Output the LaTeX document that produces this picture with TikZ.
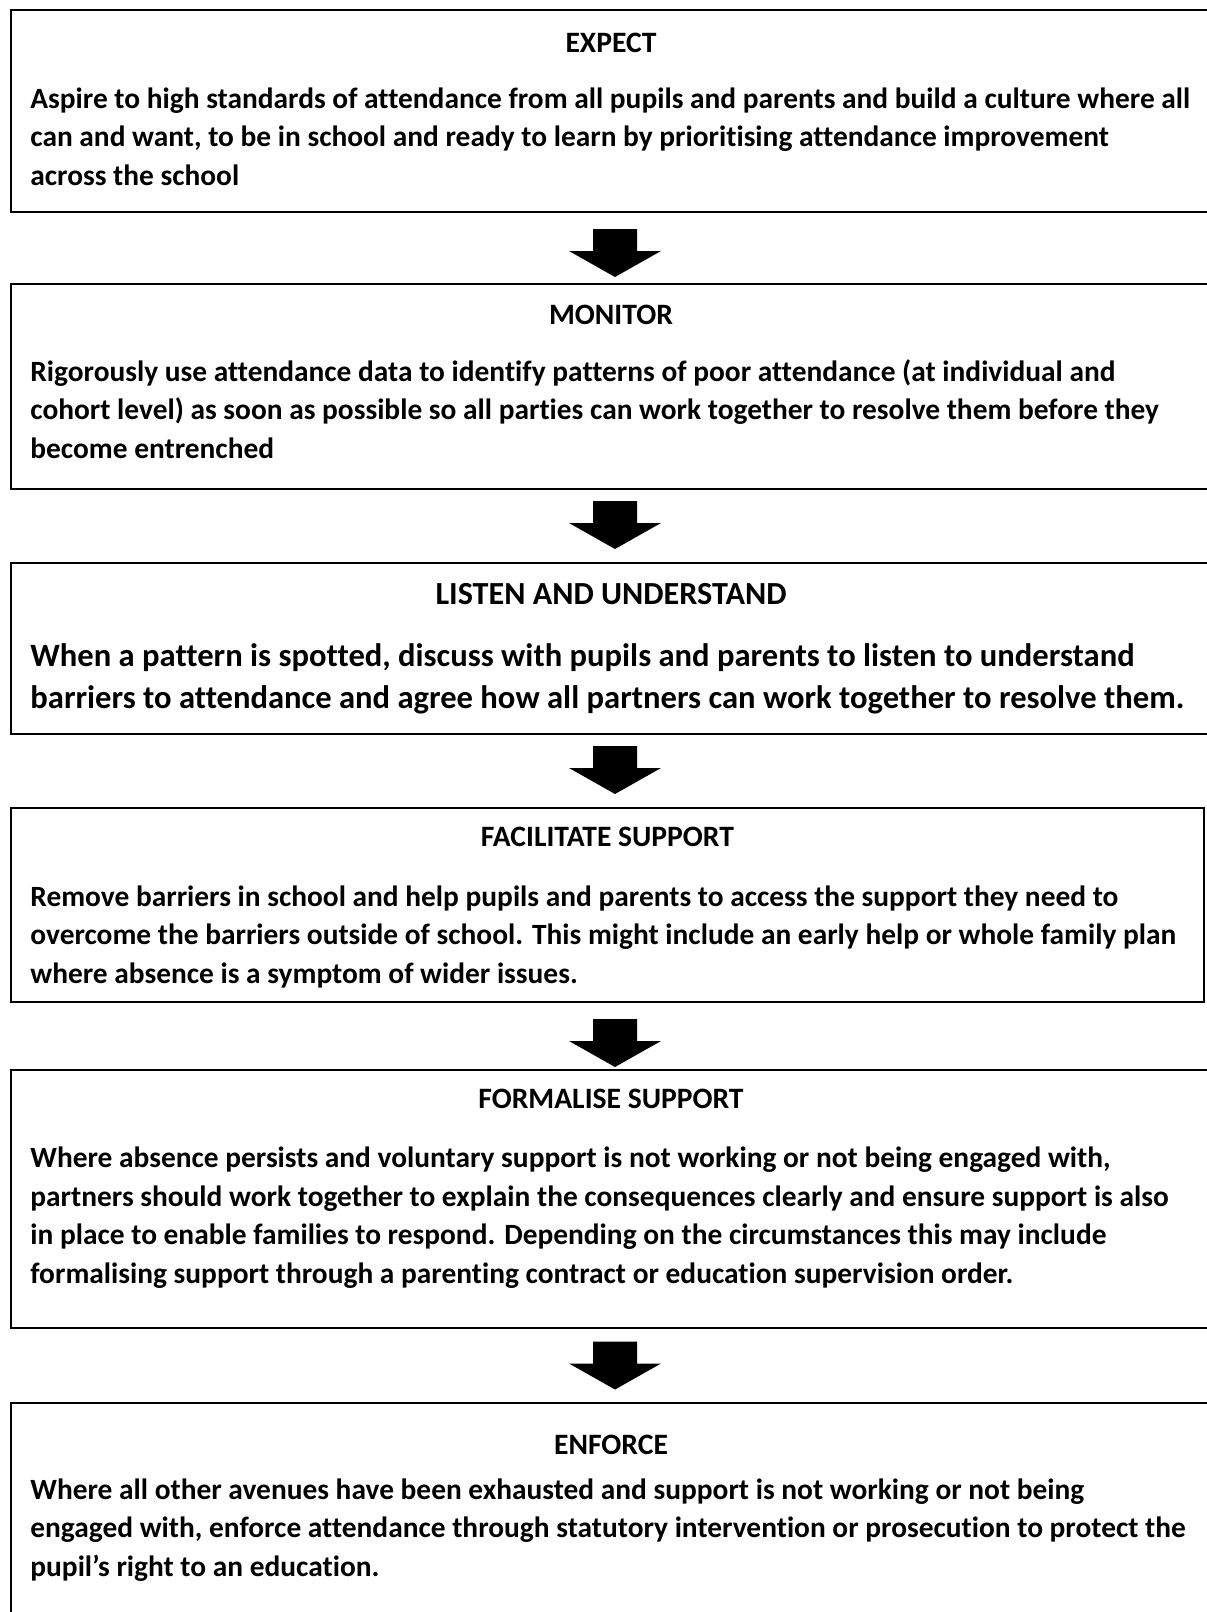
\documentclass[tikz,border=0pt]{standalone}
\usepackage{fontspec}
\setmainfont{Carlito}[RawFeature={-liga;-clig;-dlig;-calt}]
\usetikzlibrary{positioning,calc}

\tikzset{
  stage/.style={draw, line width=1pt, anchor=north west, inner sep=0pt, minimum width=600pt},
  heading/.style={font=\bfseries\fontsize{14.8}{17}\selectfont, anchor=base, inner sep=0pt},
  body/.style={font=\bfseries\fontsize{14.7}{19.25}\selectfont, align=left, anchor=base west, inner sep=0pt},
  bigheading/.style={heading, font=\bfseries\fontsize{16.1}{19}\selectfont},
  bigbody/.style={body, font=\bfseries\fontsize{16.3}{21}\selectfont},
}

\begin{document}
\begin{tikzpicture}[x=0.5pt,y=-0.5pt]
\useasboundingbox (0,0) rectangle (1206,1612);
\coordinate (axis) at (615,0);

% the six stages
\node[stage, minimum height=101pt] (expect) at (10,9) {};
\node[stage, minimum height=102.5pt] (monitor) at (10,283) {};
\node[stage, minimum height=85.5pt] (listen) at (10,562) {};
\node[stage, minimum height=97pt, minimum width=596.5pt] (facilitate) at (10,807) {};
\node[stage, minimum height=129pt] (formalise) at (10,1069) {};
\node[stage, minimum height=114pt] (enforce) at (10,1402) {};

% texts (body nodes sit on the baseline of their last line)
\node[heading] (expect-h) at ($(expect.north)+(0,43)$) {EXPECT};
\node[body] (expect-b) at ($(expect.north west)+(20,176)$) {Aspire to high standards of attendance from all pupils and parents and build a culture where all\\
can and want, to be in school and ready to learn by prioritising attendance improvement\\
across the school};

\node[heading] (monitor-h) at ($(monitor.north)+(0,41)$) {MONITOR};
\node[body] (monitor-b) at ($(monitor.north west)+(20,175)$) {Rigorously use attendance data to identify patterns of poor attendance (at individual and\\
cohort level) as soon as possible so all parties can work together to resolve them before they\\
become entrenched};

\node[bigheading] (listen-h) at ($(listen.north)+(0,42)$) {LISTEN AND UNDERSTAND};
\node[bigbody] (listen-b) at ($(listen.north west)+(20,146)$) {When a pattern is spotted, discuss with pupils and parents to listen to understand\\
barriers to attendance and agree how all partners can work together to resolve them.};

\node[heading] (facilitate-h) at ($(facilitate.north)+(0,39)$) {FACILITATE SUPPORT};
\node[body] (facilitate-b) at ($(facilitate.north west)+(20,176)$) {Remove barriers in school and help pupils and parents to access the support they need to\\
overcome the barriers outside of school. This might include an early help or whole family plan\\
where absence is a symptom of wider issues.};

\node[heading] (formalise-h) at ($(formalise.north)+(0,39)$) {FORMALISE SUPPORT};
\node[body] (formalise-b) at ($(formalise.north west)+(20,214)$) {Where absence persists and voluntary support is not working or not being engaged with,\\
partners should work together to explain the consequences clearly and ensure support is also\\
in place to enable families to respond. Depending on the circumstances this may include\\
formalising support through a parenting contract or education supervision order.};

\node[heading] (enforce-h) at ($(enforce.north)+(0,52)$) {ENFORCE};
\node[body] (enforce-b) at ($(enforce.north west)+(20,174)$) {Where all other avenues have been exhausted and support is not working or not being\\
engaged with, enforce attendance through statutory intervention or prosecution to protect the\\
pupil’s right to an education.};

% block arrows between stages
\foreach \a/\b/\o in {expect/monitor/5, monitor/listen/-1, listen/facilitate/-1, facilitate/formalise/7, formalise/enforce/0}{
  \path ($(\a.south)!.5!(\b.north)$) coordinate (mid);
  \fill ($(mid -| axis)+(0,\o)$) ++(-22,-24) -- ++(44,0) -- ++(0,22) -- ++(24,0)
    -- ++(-46,26) -- ++(-46,-26) -- ++(24,0) -- cycle;
}
\end{tikzpicture}
\end{document}
